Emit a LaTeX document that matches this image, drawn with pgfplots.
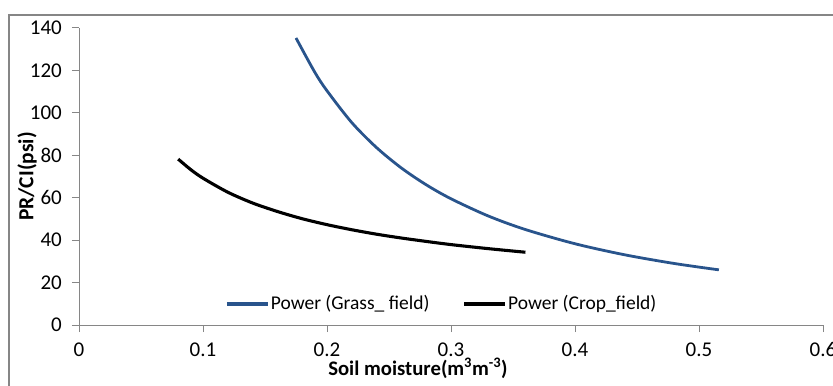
\documentclass[border=0pt]{standalone}
\usepackage{fontspec}
\setmainfont{Carlito}
\usepackage{pgfplots}
\pgfplotsset{compat=1.18}
\definecolor{grassblue}{RGB}{41,84,140}
\definecolor{axgray}{RGB}{134,134,134}
\begin{document}
\fontsize{19.5bp}{23bp}\selectfont
\begin{tikzpicture}[x=1bp,y=1bp]
\useasboundingbox (0,0) rectangle (833,385);
\draw[axgray, line width=1.5bp] (9,-10) -- (9,370) -- (850,370);
\begin{axis}[
  at={(79bp,60bp)}, anchor=south west,
  scale only axis, width=744bp, height=297bp,
  xmin=0, xmax=0.6, ymin=0, ymax=140,
  xtick={0,0.1,0.2,0.3,0.4,0.5,0.6},
  ytick={0,20,40,60,80,100,120,140},
  axis lines=left,
  axis line style={-, draw=axgray, line width=1bp},
  tick style={draw=axgray, line width=1bp},
  tick align=outside, major tick length=7bp,
  /pgf/number format/assume math mode=true,
  tick label style={font=\fontsize{21bp}{24bp}\selectfont},
  xticklabel style={anchor=base, inner sep=0pt, yshift=-24bp},
  yticklabel style={anchor=east, inner sep=0pt, xshift=-10bp},
  every axis y label/.style={at={(axis description cs:-0.0699,0.5)}, rotate=90, anchor=center,
     font=\fontsize{21.5bp}{25bp}\selectfont\bfseries},
  every axis x label/.style={at={(axis description cs:0.4556,-0.1684)}, anchor=base,
     font=\fontsize{20.7bp}{25bp}\selectfont\bfseries},
  xlabel={Soil moisture(m\textsuperscript{3}m\textsuperscript{-3})},
  ylabel={PR/CI(psi)},
  legend image code/.code={\draw[#1, line width=3.2bp] (0bp,0bp) -- (41bp,0bp);},
  legend style={at={(axis description cs:0.1962,0.0707)}, anchor=west,
    draw=none, fill=none, inner sep=0pt, legend columns=2,
    font=\fontsize{19.5bp}{23bp}\selectfont,
    nodes={inner sep=1.5bp},
    /tikz/every even column/.append style={column sep=31.5bp}},
  legend cell align=left,
]
\addplot[grassblue, line width=2.8bp, smooth] coordinates {
(0.175,135.3) (0.19,119.3) (0.20,110.4) (0.22,95.4) (0.24,83.6) (0.26,74.0)
(0.28,66.1) (0.30,59.5) (0.33,51.4) (0.36,45.0) (0.40,38.3) (0.44,33.1)
(0.48,29.0) (0.516,26.0)};
\addlegendentry{Power (Grass\_ field)}
\addplot[black, line width=3.1bp, smooth] coordinates {
(0.08,78.2) (0.09,73.3) (0.10,69.2) (0.12,62.6) (0.14,57.5) (0.16,53.5)
(0.18,50.1) (0.20,47.3) (0.22,44.9) (0.24,42.8) (0.26,41.0) (0.28,39.4)
(0.30,37.9) (0.33,36.0) (0.36,34.3)};
\addlegendentry{Power (Crop\_field)}
\end{axis}
\end{tikzpicture}
\end{document}
